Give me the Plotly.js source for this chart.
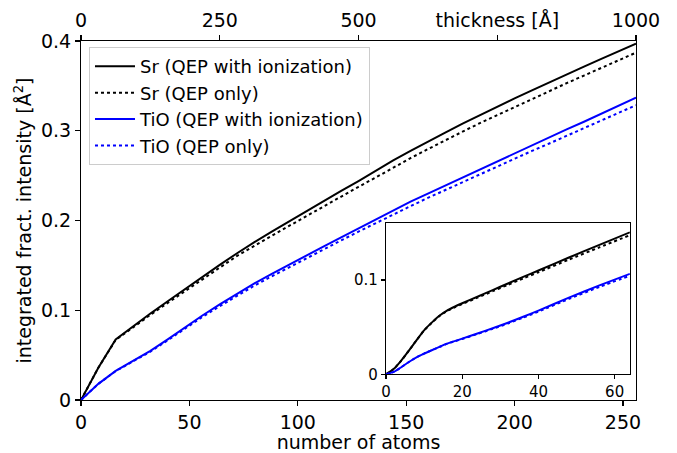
<!DOCTYPE html>
<html>
<head>
<meta charset="utf-8">
<script src="https://cdn.plot.ly/plotly-3.0.1.min.js"></script>
<style>html,body{margin:0;padding:0;background:#fff;}#chart{width:677px;height:453px;}</style>
</head>
<body>
<div id="chart"></div>
<script>
// number of atoms
var atoms = [0,2,4,6,8,10,12,14,16,18,20,24,28,32,36,40,48,56,64,72,80,88,96,104,112,120,128,136,144,152,160,168,176,184,192,200,208,216,224,232,240,248,256];
// integrated fractional intensity [Å^2]
var srIon  = [0,0.0055,0.0145,0.025,0.036,0.0466,0.0548,0.062,0.0675,0.0716,0.0753,0.0822,0.0893,0.0963,0.1032,0.1100,0.1238,0.1372,0.1505,0.1635,0.176,0.1875,0.199,0.2105,0.222,0.233,0.244,0.2555,0.267,0.2775,0.288,0.298,0.308,0.3175,0.327,0.336,0.345,0.354,0.363,0.3715,0.380,0.3885,0.397];
var srQep  = [0,0.0055,0.0145,0.025,0.036,0.0465,0.0546,0.0617,0.067,0.071,0.0745,0.0812,0.0881,0.0949,0.1016,0.1082,0.1216,0.1346,0.1475,0.1605,0.172,0.183,0.194,0.205,0.216,0.227,0.2375,0.248,0.259,0.2695,0.2795,0.2895,0.299,0.3085,0.3175,0.3265,0.3355,0.3445,0.353,0.3615,0.370,0.3785,0.387];
var tioIon = [0,0.0025,0.0075,0.013,0.018,0.022,0.0255,0.029,0.0325,0.0352,0.0378,0.0432,0.0488,0.0547,0.061,0.0675,0.0812,0.0942,0.1065,0.1185,0.130,0.1405,0.151,0.161,0.1712,0.1812,0.1912,0.201,0.2115,0.221,0.230,0.239,0.248,0.257,0.266,0.275,0.284,0.293,0.3015,0.310,0.319,0.328,0.337];
var tioQep = [0,0.0025,0.0075,0.013,0.018,0.022,0.0255,0.0289,0.0322,0.0349,0.0374,0.0427,0.0482,0.0539,0.0601,0.0665,0.0799,0.0926,0.1045,0.1163,0.1275,0.1378,0.148,0.1578,0.168,0.1778,0.1876,0.1972,0.207,0.216,0.2252,0.234,0.2427,0.2512,0.26,0.2688,0.2775,0.2858,0.2942,0.3027,0.3112,0.3198,0.3285];
var seriesNames = ["Sr (QEP with ionization)","Sr (QEP only)","TiO (QEP with ionization)","TiO (QEP only)"];
var mainStep = 8;   // main panel sampled every 8 atoms
var insetMax = 64;  // inset shows first 64 atoms
var xTicks = [0,50,100,150,200,250];
var yTicks = [0,0.1,0.2,0.3,0.4];
var yTickText = ["0","0.1","0.2","0.3","0.4"];
var topTickVals = [0,250,500,750,1000];
var topTickText = ["0","250","500","thickness [Å]","1000"];
var insetXTicks = [0,20,40,60];
var insetYTicks = [0,0.1];
var insetYTickText = ["0","0.1"];

var F = "DejaVu Sans, sans-serif";
var series = [srIon, srQep, tioIon, tioQep];
var colors = ["#000000","#000000","#0000ff","#0000ff"];
var dashes = ["solid","dot","solid","dot"];

var traces = [];
for (var i = 0; i < 4; i++) {
  var mx = [], my = [];
  for (var k = 0; k < atoms.length; k++) { if (atoms[k] % mainStep === 0) { mx.push(atoms[k]); my.push(series[i][k]); } }
  traces.push({x: mx, y: my, name: seriesNames[i], mode: "lines", type: "scatter",
    line: {color: colors[i], width: 2, dash: dashes[i]}, xaxis: "x", yaxis: "y", legendgroup: "g"+i});
}
for (var j = 0; j < 4; j++) {
  var xs = [], ys = [];
  for (var m = 0; m < atoms.length; m++) { if (atoms[m] <= insetMax) { xs.push(atoms[m]); ys.push(series[j][m]); } }
  traces.push({x: xs, y: ys, mode: "lines", type: "scatter", showlegend: false,
    line: {color: colors[j], width: 2, dash: dashes[j], shape: "spline", smoothing: 0.6}, xaxis: "x2", yaxis: "y2"});
}
traces.push({x: [0,1000], y: [null,null], mode: "lines", type: "scatter", showlegend: false, xaxis: "x3", yaxis: "y", hoverinfo: "skip"});

var axBase = {showgrid: false, zeroline: false, showline: true, linecolor: "#000", linewidth: 1.1,
  ticks: "outside", ticklen: 5, tickwidth: 1.1, tickcolor: "#000"};

var layout = {
  width: 677, height: 453,
  margin: {l: 81, r: 41, t: 41, b: 53},
  paper_bgcolor: "#fff", plot_bgcolor: "#fff",
  font: {family: F, size: 19, color: "#000"},
  showlegend: true,
  legend: {x: 0.0144, y: 0.983, xanchor: "left", yanchor: "top", bgcolor: "rgba(255,255,255,0.85)",
    bordercolor: "#cccccc", borderwidth: 1, font: {family: F, size: 18}, tracegroupgap: 0, itemwidth: 40},
  xaxis: Object.assign({}, axBase, {domain: [0,1], range: [0,256], anchor: "y", mirror: true,
    tickvals: xTicks, ticktext: xTicks.map(String), tickfont: {size: 19},
    title: {text: "number of atoms", font: {size: 19}, standoff: 2}}),
  yaxis: Object.assign({}, axBase, {domain: [0,1], range: [0,0.4], anchor: "x", mirror: true,
    tickvals: yTicks, ticktext: yTickText, tickfont: {size: 19},
    title: {text: "integrated fract. intensity [Å<sup>2</sup>]", font: {size: 19}, standoff: 4}}),
  xaxis3: Object.assign({}, axBase, {overlaying: "x", side: "top", anchor: "y", range: [0,1000],
    tickvals: topTickVals, ticktext: topTickText, tickfont: {size: 19}, showline: false}),
  xaxis2: Object.assign({}, axBase, {domain: [0.5495,0.989], range: [0,64], anchor: "y2", mirror: true,
    tickvals: insetXTicks, ticktext: insetXTicks.map(String), tickfont: {size: 15}, ticklen: 4}),
  yaxis2: Object.assign({}, axBase, {domain: [0.0716,0.492], range: [0,0.16], anchor: "x2", mirror: true,
    tickvals: insetYTicks, ticktext: insetYTickText, tickfont: {size: 15}, ticklen: 4})
};

Plotly.newPlot("chart", traces, layout, {displayModeBar: false, staticPlot: true});
</script>
</body>
</html>
